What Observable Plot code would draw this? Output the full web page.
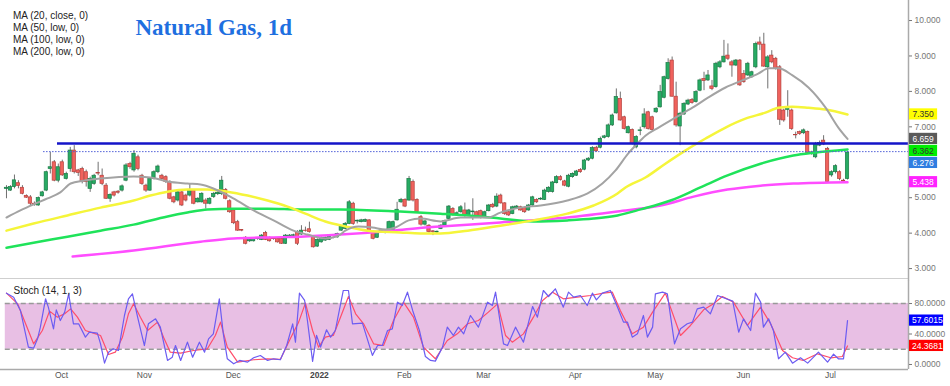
<!DOCTYPE html>
<html><head><meta charset="utf-8">
<script src="https://cdn.jsdelivr.net/npm/d3@7"></script>
<script src="https://cdn.jsdelivr.net/npm/@observablehq/plot@0.6"></script>
<style>
html,body{margin:0;padding:0;background:#fff;}
#chart{width:950px;height:386px;overflow:hidden;}
#chart svg{display:block;overflow:visible;}
</style></head><body><div id="chart"></div>
<script>
// ---------- DATA ----------
const title = "Natural Gas, 1d";
const maLegend = ["MA (20, close, 0)", "MA (50, low, 0)", "MA (100, low, 0)", "MA (200, low, 0)"];
const stochLegend = "Stoch (14, 1, 3)";

const open = [
5.25,5.20,5.30,5.41,5.28,5.05,5.01,4.83,4.78,5.04,
5.20,5.81,6.00,5.48,6.00,5.53,5.81,6.33,5.77,5.81,
5.72,5.25,5.39,5.70,5.62,5.34,4.97,5.15,5.17,5.20,
5.48,5.95,5.77,6.14,5.62,5.34,5.20,5.53,5.72,5.62,
5.58,5.44,5.01,4.92,5.15,5.06,5.06,5.20,4.87,4.87,
4.92,4.83,5.02,5.10,5.10,5.22,4.90,4.64,4.31,4.09,
3.87,3.77,3.77,3.83,3.81,4.00,3.87,3.85,3.84,3.84,
3.70,3.87,3.92,4.03,3.96,4.07,4.11,3.89,3.62,3.74,
3.79,3.81,3.86,3.88,4.07,4.12,4.26,4.83,4.33,4.31,
4.32,4.36,4.04,3.87,4.03,4.00,4.03,4.05,4.36,4.87,
4.94,4.92,5.44,4.94,4.45,4.24,4.21,4.05,4.02,4.12,
4.21,4.40,4.68,4.52,4.59,4.64,4.50,4.59,4.59,4.62,
4.45,4.62,4.80,4.75,5.06,4.84,4.59,4.54,4.71,4.73,
4.71,4.64,4.78,4.94,4.95,4.94,5.16,5.16,5.41,5.58,
5.46,5.31,5.58,5.62,5.78,5.79,6.05,6.10,6.41,6.41,
6.69,6.71,7.04,7.38,7.79,7.27,6.82,6.91,6.42,6.88,
6.99,7.41,7.27,7.41,7.55,7.82,8.35,8.87,7.85,7.01,
7.35,7.63,7.76,7.70,8.02,8.35,8.31,8.14,8.12,8.68,
8.82,9.01,8.82,8.73,8.87,8.49,8.45,8.40,8.68,9.38,
9.32,8.68,9.01,8.92,8.68,7.46,7.48,7.46,6.77,6.85,
6.82,6.85,6.28,6.14,6.47,6.61,6.38,5.63,5.72,5.72,
5.48,5.53];
const high = [
5.34,5.34,5.64,5.48,5.34,5.08,5.06,4.88,5.02,5.18,
5.75,6.28,6.05,5.95,6.06,5.72,6.42,6.47,5.80,5.86,
5.78,5.58,5.66,6.00,5.81,5.40,5.11,5.18,5.20,5.36,
5.96,6.00,6.33,6.20,5.66,5.38,5.56,5.76,5.92,5.66,
5.62,5.48,5.04,5.18,5.18,5.10,5.39,5.23,5.00,5.14,
4.97,5.00,5.15,5.18,5.60,5.26,4.94,4.66,4.36,4.10,
3.90,3.84,3.86,3.87,3.96,4.05,3.89,3.87,3.86,3.87,
3.96,3.96,3.97,4.07,4.21,4.17,4.31,3.93,3.84,3.89,
3.89,3.93,3.89,4.00,4.21,4.30,4.92,4.87,4.37,4.39,
4.40,4.38,4.06,4.05,4.10,4.08,4.34,4.34,4.87,4.98,
4.97,5.60,5.50,4.97,4.50,4.36,4.24,4.07,4.06,4.24,
4.37,4.78,4.72,4.60,4.78,4.85,4.67,4.97,4.62,4.65,
4.62,4.81,4.84,5.11,5.10,4.86,4.62,4.76,4.78,4.76,
4.74,4.81,5.04,4.97,5.00,5.24,5.31,5.46,5.62,5.62,
5.49,5.66,5.70,5.77,5.82,6.08,6.13,6.44,6.45,6.71,
6.76,7.08,7.36,8.07,7.98,7.30,7.02,6.94,6.75,6.99,
7.51,7.44,7.30,7.54,8.17,8.43,8.92,8.97,8.26,7.41,
7.68,7.78,7.80,8.02,8.35,8.54,8.59,8.31,8.82,8.87,
9.44,9.34,8.87,8.90,8.90,8.59,8.82,8.57,9.39,9.53,
9.64,9.01,9.15,8.96,8.73,7.50,8.02,7.50,6.85,6.88,
6.94,6.88,6.31,6.56,6.60,6.75,6.42,5.76,5.93,5.76,
5.52,6.31];
const low = [
4.97,5.18,5.25,5.25,5.08,4.98,4.78,4.76,4.76,5.02,
5.17,5.67,5.45,5.42,5.60,5.50,5.72,5.67,5.60,5.39,
5.30,5.15,5.35,5.62,5.34,4.95,4.87,5.02,5.10,5.16,
5.45,5.80,5.72,5.76,5.35,5.15,5.18,5.50,5.68,5.50,
5.40,4.94,4.83,4.88,4.75,4.88,5.02,4.80,4.85,4.85,
4.68,4.80,4.98,5.06,5.06,4.94,4.56,4.24,4.05,4.04,
3.67,3.74,3.75,3.80,3.79,3.79,3.75,3.80,3.72,3.68,
3.68,3.85,3.89,3.65,3.94,4.03,4.00,3.58,3.60,3.72,
3.77,3.79,3.84,3.86,4.05,4.10,4.24,4.22,4.26,4.29,
4.30,4.00,3.81,3.85,4.01,3.98,4.00,4.02,4.34,4.84,
4.72,4.90,4.88,4.56,4.20,4.20,4.00,3.93,3.98,4.10,
4.18,4.37,4.48,4.49,4.56,4.45,4.47,4.36,4.42,4.40,
4.42,4.60,4.70,4.72,4.82,4.50,4.47,4.52,4.68,4.62,
4.56,4.62,4.76,4.84,4.92,4.92,5.13,5.13,5.39,5.47,
5.31,5.28,5.55,5.60,5.69,5.76,6.02,6.07,6.28,6.38,
6.66,6.68,7.01,7.36,7.16,6.91,6.80,6.49,6.38,6.75,
6.94,6.91,6.88,7.38,7.53,7.79,8.32,7.84,6.99,6.47,
7.32,7.60,7.64,7.67,7.99,8.02,8.28,8.02,8.09,8.64,
8.80,8.87,8.40,8.70,8.14,8.23,8.42,8.37,8.64,9.15,
8.68,8.07,8.78,8.60,7.04,7.13,7.27,6.90,6.66,6.76,
6.78,6.22,6.20,6.10,6.44,6.47,5.40,5.58,5.67,5.48,
5.42,5.50];
const close = [
5.28,5.30,5.49,5.33,5.11,5.00,4.83,4.80,4.99,5.15,
5.72,5.86,5.48,5.86,5.63,5.67,6.33,5.72,5.70,5.44,
5.44,5.53,5.62,5.68,5.39,4.97,5.08,5.06,5.14,5.32,
5.91,5.86,6.24,5.81,5.39,5.20,5.53,5.72,5.88,5.53,
5.44,4.97,4.87,5.15,4.78,4.92,5.20,4.83,4.97,5.11,
4.83,4.97,5.11,5.14,5.48,4.97,4.59,4.28,4.07,4.07,
3.70,3.81,3.84,3.84,3.93,3.81,3.77,3.83,3.74,3.70,
3.93,3.93,3.94,3.70,4.07,4.06,4.03,3.60,3.81,3.87,
3.87,3.90,3.87,3.98,4.19,4.26,4.87,4.26,4.35,4.36,
4.37,4.03,3.84,4.03,4.07,4.05,4.31,4.31,4.66,4.94,
4.75,5.53,4.92,4.59,4.24,4.33,4.03,4.03,4.04,4.21,
4.34,4.75,4.52,4.56,4.73,4.50,4.64,4.61,4.45,4.43,
4.59,4.78,4.73,5.03,4.84,4.54,4.50,4.73,4.75,4.64,
4.59,4.78,5.01,4.87,4.97,5.20,5.28,5.43,5.58,5.50,
5.34,5.62,5.67,5.74,5.72,6.05,6.10,6.40,6.31,6.66,
6.73,7.04,7.32,7.84,7.18,6.94,6.99,6.52,6.71,6.90,
7.35,6.94,6.91,7.51,7.98,8.40,8.80,7.85,7.04,7.37,
7.65,7.74,7.67,7.98,8.31,8.29,8.45,8.07,8.78,8.82,
8.98,8.92,8.73,8.87,8.17,8.26,8.78,8.54,9.34,9.32,
8.70,8.96,8.82,8.64,7.20,7.18,7.55,6.94,6.76,6.80,
6.90,6.26,6.24,6.52,6.54,6.50,5.44,5.72,5.89,5.53,
5.46,6.276];

// moving averages (read at sampled bar indices)
const ma20Idx = [0,3.5,6.8,10.3,13.5,16.1,19.3,23.6,31.9,36.1,40.4,45.4,48.7,51.9,56.9,62.0,67.0,72.0,75.5,80.0,83.3,85.0,88.3,91.8,95.1,97.6,100.9,103.9,108.9,113.9,120.7,123.9,128.9,134.0,140.7,145.8,149.5,152.8,156.0,157.8,160.3,163.6,167.8,172.1,176.1,180.4,184.6,188.6,191.2,193.7,197.2,201.2,205.5,208.7,211];
const ma20Val = [4.44,4.64,4.81,4.98,5.15,5.40,5.48,5.54,5.60,5.57,5.46,5.40,5.37,5.26,4.98,4.64,4.36,4.07,3.96,3.85,3.93,4.07,4.19,4.16,4.10,4.16,4.36,4.41,4.33,4.44,4.44,4.58,4.72,4.78,4.92,5.12,5.40,5.77,6.25,6.47,6.75,6.98,7.26,7.54,7.83,8.11,8.31,8.50,8.65,8.65,8.45,8.11,7.54,6.98,6.659];
const ma50Idx = [0,6.8,15.3,23.6,31.9,36.1,40.4,45.4,50.4,55.4,60.5,65.5,70.5,75.0,80.0,85.1,90.6,98.8,103.9,108.9,115.7,123.9,132.2,140.7,147.3,153.3,155.3,160.3,165.3,170.3,175.4,180.4,185.4,190.4,193.7,197.2,201.2,205.5,211];
const ma50Val = [4.07,4.27,4.50,4.72,4.92,5.06,5.17,5.23,5.23,5.17,5.06,4.92,4.75,4.55,4.33,4.19,4.07,4.02,3.99,3.99,4.07,4.21,4.36,4.55,4.78,5.12,5.29,5.57,5.96,6.33,6.67,6.98,7.23,7.40,7.54,7.57,7.54,7.49,7.35];
const ma100Idx = [0,6.8,15.3,23.6,31.9,40.4,45.4,50.4,56.9,65.5,73.8,83.8,98.8,108.9,118.9,123.9,132.2,140.7,147.3,153.3,159.1,166.6,174.1,180.9,189.2,197.4,202.5,211];
const ma100Val = [3.59,3.73,3.90,4.07,4.24,4.47,4.58,4.67,4.69,4.69,4.67,4.67,4.61,4.55,4.47,4.41,4.33,4.36,4.41,4.50,4.67,4.92,5.29,5.63,5.96,6.19,6.27,6.362];
const ma200Idx = [16.6,31.9,48.7,56.9,65.5,73.8,83.8,96.8,105.1,108.9,123.9,140.7,153.3,164.1,172.4,180.9,189.2,197.4,211];
const ma200Val = [3.34,3.51,3.76,3.85,3.88,3.90,3.96,4.07,4.16,4.19,4.30,4.44,4.61,4.78,5.03,5.23,5.34,5.40,5.438];

// horizontal levels
const levelValues = [6.53, 6.30];
const levelStart = [12.8, 9.3];

// last-value tags
const tagValues = [7.350, 6.659, 6.362, 6.276, 5.438];
const stochTagValues = [57.6015, 24.3681];

// stochastic %K (blue) and %D (red)
const kIdx = [0,1.8,3.5,5.5,6.8,7.8,8.5,9.8,10.5,11.8,12.5,13.5,14.6,15.6,16.8,18.1,19.8,20.8,22.8,23.6,24.6,25.6,26.8,28.1,29.6,30.6,31.6,32.9,34.6,35.6,37.4,38.6,40.4,41.6,42.4,43.7,45.4,46.7,48.4,49.7,50.7,51.9,53.4,54.4,55.4,57.0,58.5,60.5,62.0,63.7,65.5,67.0,68.7,70.3,71.8,72.5,73.5,74.8,75.5,76.8,77.8,78.8,80.3,81.3,82.5,84.5,85.8,86.8,89.3,91.8,93.1,94.3,95.6,96.8,98.1,99.3,100.6,101.9,103.6,105.1,106.4,107.6,109.4,110.6,112.1,113.4,114.7,116.4,118.4,120.7,121.9,122.7,124.7,125.7,127.7,129.7,132.0,133.2,134.7,136.0,137.7,139.7,141.0,142.3,144.0,145.7,147.0,148.0,149.5,151.5,153.3,154.8,155.8,157.0,158.3,159.8,160.8,162.1,162.8,164.6,165.8,167.6,169.1,170.8,172.1,173.3,174.9,176.6,178.4,179.9,182.2,183.7,184.9,186.7,187.9,189.2,189.9,191.2,192.4,193.7,195.4,197.2,199.2,201.0,203.7,206.0,207.5,208.7,210,211];
const kVal = [93.6,88.3,70.9,22.8,21.4,33.7,49,86.2,75.2,46.8,71.7,57.7,68.7,92.7,53.4,53.4,35.9,42.4,41.1,27.1,1.8,16.2,20.6,18.4,64.3,86.2,92.7,62.1,24.9,53.4,59.9,49,5.3,9.6,24.9,5.3,29.3,9.6,29.3,16.2,33.7,40.2,86.2,40.2,7.5,0.9,5.3,3.1,8.8,11.8,5.3,7.5,6.2,24.9,53.4,29.3,93.6,84,57.7,4,38.1,22.8,45.5,35.9,44.6,97.1,97.1,53.4,54.2,12,24.9,24.9,44.6,46.8,81.8,77.4,94.9,70.9,44.6,10.5,5.3,4.4,22.8,49,38.1,49,40.2,64.3,49,81.8,77.4,94.9,27.1,24.9,49,29.3,76.1,62.1,97.1,89.2,99.3,75.2,94.9,88.3,90.5,77.4,93.6,84.8,93.6,97.1,75.2,55.6,55.6,35.9,40.2,64.3,35.9,49,92.7,94.9,92.7,27.1,46.8,53.4,55.6,73,75.2,66.5,90.5,87.5,83.1,42.4,59.9,44.6,93.6,81.8,49,59.9,44.6,7.5,16.2,1.8,8.8,1.8,16.2,3.1,13.7,7.5,7.5,57.6015];
const dIdx = [0,2.8,4.8,6.8,9.0,10.8,12.8,14.6,16.1,17.8,19.8,21.8,23.6,25.6,27.3,29.1,30.6,31.9,33.6,35.4,37.9,39.4,41.1,43.7,46.9,50.4,52.4,53.7,55.4,58.0,62.0,65.5,68.7,71.2,73.3,75.0,76.8,78.3,80.0,82.0,83.8,85.8,87.6,89.6,92.1,94.6,97.1,99.6,102.1,104.6,107.6,110.6,113.1,115.7,118.4,120.9,123.2,125.2,126.9,129.7,132.2,134.5,137.0,139.7,143.2,146.5,149.8,152.0,154.0,157.0,159.8,162.1,165.3,169.1,171.6,174.9,177.4,179.6,182.4,185.9,189.2,191.7,194.7,197.2,199.9,203.5,206.8,209.7,211];
const dVal = [93.6,79.6,53.4,27.1,44.6,70,62.1,66.5,73,62.1,44.6,41.1,38.1,13.1,16.2,35.9,66.5,79.6,62.1,44.6,55.6,35.9,16.2,14.9,18.4,20.6,38.1,55.6,22.8,3.1,6.2,7.5,6.6,33.7,55.6,80.5,44.6,22.8,35.9,38.1,62.1,89.2,66.5,53.4,27.1,24.9,57.7,81.8,62.1,22.8,7.5,31.5,40.2,53.4,57.7,68.7,79.6,38.1,29.3,40.2,62.1,84,94.9,86.2,88.3,90.5,93.6,94.9,70.9,40.2,49,68.7,93.6,38.1,51.2,71.7,79.6,89.2,81.8,51.2,75.2,53.4,18.4,8.8,5.3,14,8.8,10.5,24.3681];

// axes (6.000 is hidden behind the last-price tag in the reference)
const priceTicks = [3,4,5,7,8,9,10];
const stochTicks = [0,40,80];
const stochBand = [20,80];
const monthIdx = [13.8,34.6,56.9,78.5,99.8,119.7,142.7,162.8,184.9,206.7];
const monthLabels = ["Oct","Nov","Dec","2022","Feb","Mar","Apr","May","Jun","Jul"];

// ---------- DRAW ----------
const X0 = -1.5, X1 = 226.3;
const Y0 = 2.72, Y1 = 10.565;
const font = "Liberation Sans, Arial, sans-serif";

const bars = open.map((o,i)=>({i, o, h:high[i], l:low[i], c:close[i], up: close[i] >= o}));
const pts = (xs, ys) => xs.map((x,k)=>({x, y:ys[k]}));

// stack price tags so they don't overlap (12px gap)
const pxPerUnit = 278/(Y1-Y0);
const gap = 12/pxPerUnit;
const tagStyle = [
  {bg:"#ffff00", fg:"#333"},
  {bg:"#5a5a5a", fg:"#fff"},
  {bg:"#00ee00", fg:"#333"},
  {bg:"#2f7de1", fg:"#fff"},
  {bg:"#ff22ff", fg:"#fff"}
];
let prev = Infinity;
const tags = tagValues.map((v,k)=>{
  let p = v;
  if (prev - p < gap) p = prev - gap;
  prev = p;
  return {v, p, ...tagStyle[k]};
});
const th = 5.6/pxPerUnit;

const main = Plot.plot({
  width:950, height:280, marginLeft:0, marginRight:42, marginTop:0, marginBottom:2,
  x:{domain:[X0,X1], axis:null},
  y:{domain:[Y0,Y1], axis:null},
  style:{background:"#fff", fontFamily:font, overflow:"visible"},
  marks:[
    Plot.ruleY([Y0], {stroke:"#cfcfcf", strokeWidth:1}),
    Plot.ruleX(bars, {x:"i", y1:"l", y2:"h", stroke:"#707070", strokeWidth:1}),
    Plot.rect(bars, {x1:d=>d.i-0.42, x2:d=>d.i+0.42, y1:d=>Math.min(d.o,d.c), y2:d=>Math.max(d.o,d.c),
      fill:d=>d.up?"#27ab63":"#f0625d", stroke:d=>d.up?"#187a45":"#b5413d", strokeWidth:0.7}),
    Plot.line(pts(ma200Idx, ma200Val), {x:"x", y:"y", stroke:"#ff4dff", strokeWidth:2.5, curve:"monotone-x"}),
    Plot.line(pts(ma100Idx, ma100Val), {x:"x", y:"y", stroke:"#1fe35a", strokeWidth:2.5, curve:"monotone-x"}),
    Plot.line(pts(ma50Idx, ma50Val), {x:"x", y:"y", stroke:"#f5f53a", strokeWidth:2.5, curve:"monotone-x"}),
    Plot.line(pts(ma20Idx, ma20Val), {x:"x", y:"y", stroke:"#a3a3a3", strokeWidth:2, curve:"monotone-x"}),
    Plot.ruleY([levelValues[1]], {x1:levelStart[1], x2:X1, stroke:"#5060d8", strokeWidth:1, strokeDasharray:"1.5,1.5"}),
    Plot.ruleY([levelValues[0]], {x1:levelStart[0], x2:X1, stroke:"#1414c8", strokeWidth:2.5}),
    Plot.ruleX([X1], {y1:Y0-0.06, y2:Y1, stroke:"#aaa", strokeWidth:1.5}),
    Plot.axisY(priceTicks, {anchor:"right", tickSize:3, tickPadding:3, tickFormat:d3.format(".3f"), fontSize:8.5, color:"#777"}),
    Plot.rect(tags, {x1:X1+0.25, x2:X1+7.3, y1:d=>d.p-th, y2:d=>d.p+th, fill:"bg"}),
    Plot.text(tags, {x:X1, y:"p", dx:4, text:d=>d.v.toFixed(3), fill:"fg", textAnchor:"start", fontSize:8.5}),
    Plot.text([maLegend.join("\n")], {frameAnchor:"top-left", dx:12.5, dy:10.6, lineAnchor:"top", lineHeight:1.18, fontSize:10, fill:"#222", textAnchor:"start"}),
    Plot.text([title], {frameAnchor:"top-left", dx:135, dy:27.6, lineAnchor:"middle", fontSize:23, fontWeight:"bold", fontFamily:"Liberation Serif, DejaVu Serif, serif", fill:"#1e6fe0", textAnchor:"start"})
  ]
});

const sth = 5.6/(89/(110.2+6.56));
const sTagStyle = [{bg:"#0000ff", fg:"#fff"}, {bg:"#ff0000", fg:"#fff"}];
const sTags = stochTagValues.map((v,k)=>({v, ...sTagStyle[k]}));
const months = monthIdx.map((x,k)=>({x, label:monthLabels[k]}));

const stoch = Plot.plot({
  width:950, height:106, marginLeft:0, marginRight:42, marginTop:0, marginBottom:17,
  x:{domain:[X0,X1], axis:null},
  y:{domain:[-6.56,110.2], axis:null},
  style:{background:"#fff", fontFamily:font, overflow:"visible"},
  marks:[
    Plot.rect([stochBand], {x1:-0.3, x2:X1, y1:d=>d[0], y2:d=>d[1], fill:"#e8bfe4"}),
    Plot.ruleY(stochBand, {x1:-0.3, x2:X1, stroke:"#999", strokeWidth:1.3, strokeDasharray:"5,3"}),
    Plot.line(pts(dIdx, dVal), {x:"x", y:"y", stroke:"#ff4d6a", strokeWidth:1.2, curve:"linear"}),
    Plot.line(pts(kIdx, kVal), {x:"x", y:"y", stroke:"#6c5cf2", strokeWidth:1.2, curve:"linear"}),
    Plot.ruleY([-6.56], {stroke:"#aaa", strokeWidth:1.5}),
    Plot.ruleX([X1], {stroke:"#aaa", strokeWidth:1.5}),
    Plot.axisY(stochTicks, {anchor:"right", tickSize:3, tickPadding:3, tickFormat:d3.format(".4f"), fontSize:8.5, color:"#777"}),
    Plot.rect(sTags, {x1:X1+0.25, x2:X1+8.8, y1:d=>d.v-sth, y2:d=>d.v+sth, fill:"bg"}),
    Plot.text(sTags, {x:X1, y:"v", dx:3.5, text:d=>d.v.toFixed(4), fill:"fg", textAnchor:"start", fontSize:8.5}),
    Plot.text(months.filter(d=>d.label!=="2022"), {x:"x", text:"label", frameAnchor:"bottom", dy:8, fontSize:8.5, fill:"#555"}),
    Plot.text(months.filter(d=>d.label==="2022"), {x:"x", text:"label", frameAnchor:"bottom", dy:8, fontSize:8.5, fontWeight:"bold", fill:"#444"}),
    Plot.text([stochLegend], {frameAnchor:"top-left", dx:13, dy:6, lineAnchor:"top", fontSize:10, fill:"#222", textAnchor:"start"})
  ]
});

document.getElementById("chart").append(main, stoch);
</script></body></html>
